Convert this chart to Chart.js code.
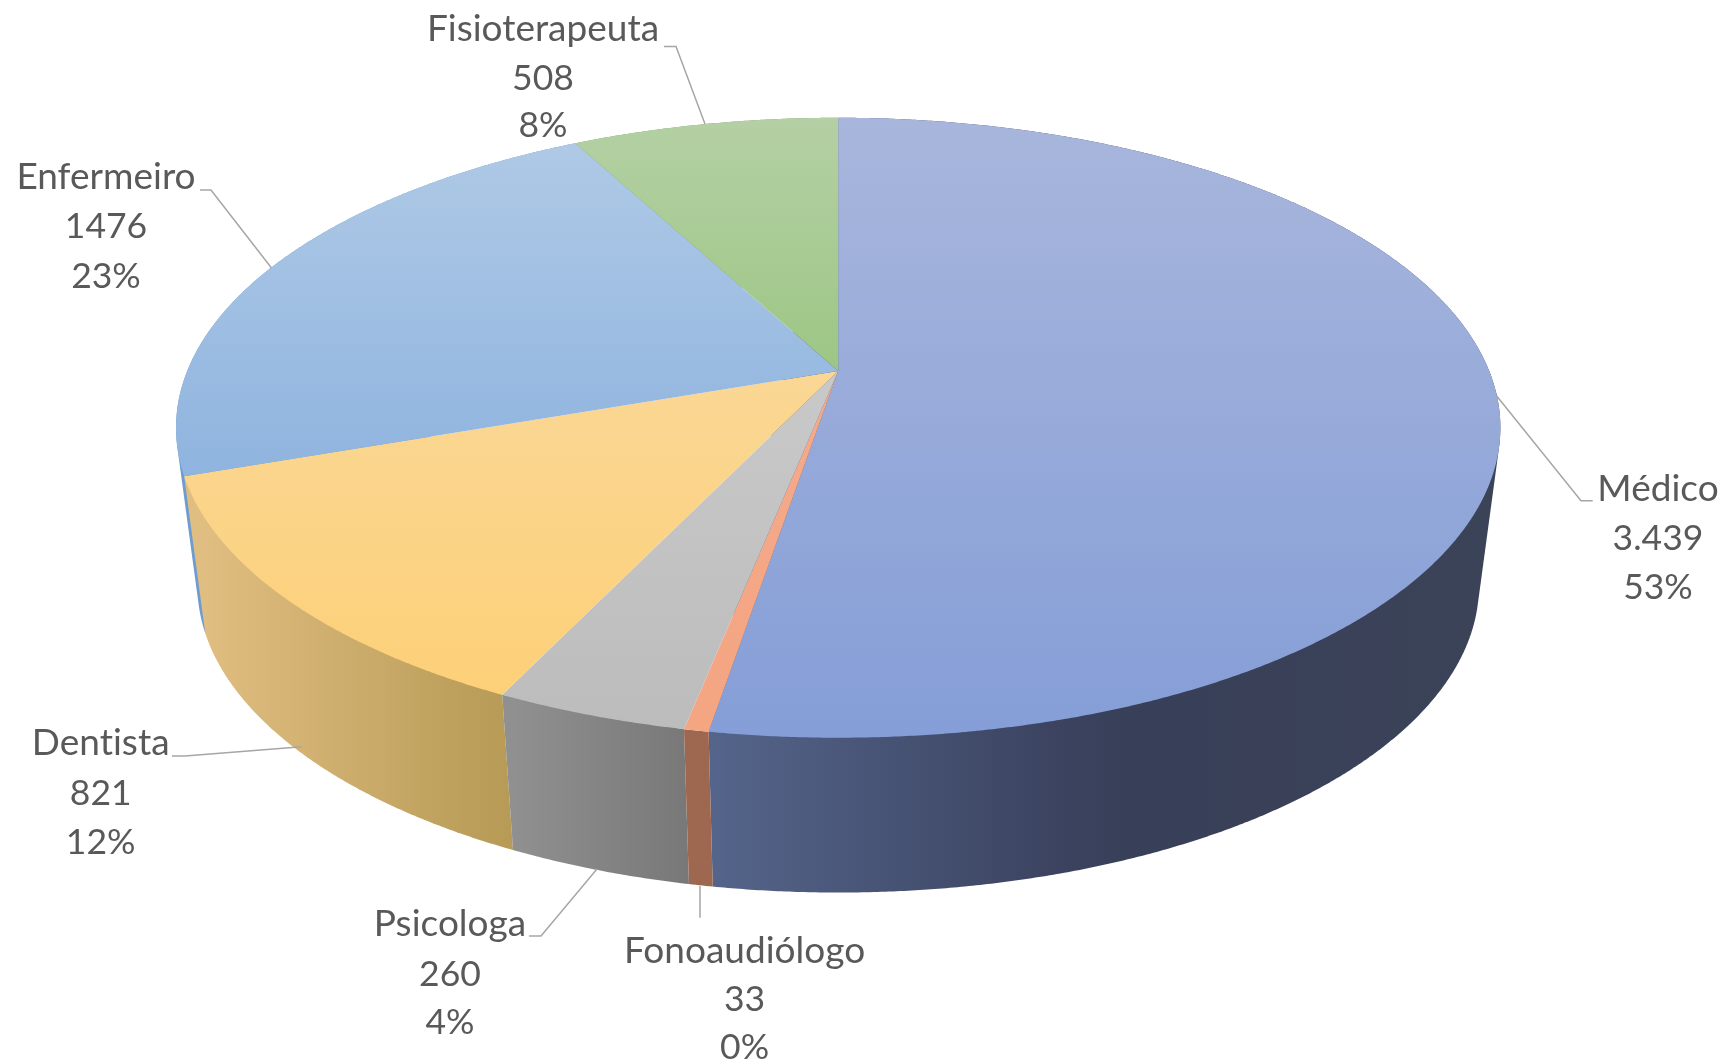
<!DOCTYPE html>
<html>
<head>
<meta charset="utf-8">
<style>html,body{margin:0;padding:0;background:#fff}canvas{display:block}</style>
<script src="https://cdn.jsdelivr.net/npm/chart.js@4/dist/chart.umd.min.js"></script>
</head>
<body>
<canvas id="c" width="1727" height="1064"></canvas>
<script>
const categories = ['Médico','Fonoaudiólogo','Psicologa','Dentista','Enfermeiro','Fisioterapeuta'];
const values = [3439,33,260,821,1476,508];
const valueLabels = ['3.439','33','260','821','1476','508'];
const percentLabels = ['53%','0%','4%','12%','23%','8%'];
const baseColors = ['#96a8d9','#f4a582','#c2c2c2','#fbd68c','#9dbce2','#a8cb94'];

// styles
const topGradients = [['#a8b6dc','#859ed7'],['#f5aa8a','#f4a582'],['#c9c9c9','#bcbcbc'],['#fad795','#fdd078'],['#afc9e6','#8fb4df'],['#b4d0a4','#9dc684']];
const wallGradients = [
  [[0,'#54648a'],[0.45,'#3b4360'],[0.55,'#383f58'],[1,'#3b4358']],
  [[0,'#9e6850'],[1,'#9e6850']],
  [[0,'#909090'],[1,'#787878']],
  [[0,'#e0bd80'],[1,'#b69a55']],
  [[0,'#6e9bd0'],[1,'#6e9bd0']],
  [[0,'#7d9c68'],[1,'#7d9c68']]
];
const wallOrder = [0,4,5,3,2,1];
const TOP = {x0:838.2, A:651, B:299.6, C:371, K:0.183};
const LOW = {x0:838.2, A:630, B:297, C:529, K:0.183};
const project = (p,a)=>{const u=Math.cos(a),v=-Math.sin(a),d=1+p.K*v;return [p.x0+p.A*u/d,p.C-p.B*v/d];};
const rim = (p,a0,a1)=>{const n=Math.max(2,Math.ceil(Math.abs(a1-a0)/0.005));const o=[];for(let i=0;i<=n;i++)o.push(project(p,a0+(a1-a0)*i/n));return o;};
const hull = pts=>{
  const s=pts.slice().sort((a,b)=>a[0]-b[0]||a[1]-b[1]);
  const cross=(o,a,b)=>(a[0]-o[0])*(b[1]-o[1])-(a[1]-o[1])*(b[0]-o[0]);
  const lo=[],up=[];
  s.forEach(q=>{while(lo.length>1&&cross(lo[lo.length-2],lo[lo.length-1],q)<=0)lo.pop();lo.push(q);});
  s.slice().reverse().forEach(q=>{while(up.length>1&&cross(up[up.length-2],up[up.length-1],q)<=0)up.pop();up.push(q);});
  return lo.slice(0,-1).concat(up.slice(0,-1));
};

const labelLayout = [
  {cx:1658, base:[500.7,550,598.5], line:[[1496.7,396],[1581,500.7],[1592.7,500.7]]},
  {cx:744.6, base:[962.7,1011,1058.5], line:[[700,886],[700,917.7]]},
  {cx:450, base:[936,986,1033.5], line:[[597,869],[541,936],[529,936]]},
  {cx:100.7, base:[755,805,854], line:[[301.7,746.7],[185,756],[172,756]]},
  {cx:106, base:[189,238,287.5], line:[[271.5,268],[211,190],[200,190]]},
  {cx:543, base:[40.7,89.8,137.3], line:[[705,124],[676,46.5],[664,46.5]]}
];

const pie3d = {
  id:'pie3d',
  beforeDatasetDraw(chart,args){
    const ctx=chart.ctx, arcs=chart.getDatasetMeta(args.index).data;
    ctx.save();
    wallOrder.forEach(i=>{
      const el=arcs[i];
      const t=rim(TOP,el.startAngle,el.endAngle), b=rim(LOW,el.startAngle,el.endAngle);
      const poly=hull(t.concat(b));
      const fr=b.filter(q=>q[1]>LOW.C);
      const src=fr.length?fr:b, xa=Math.min(...src.map(q=>q[0])), xb=Math.max(...src.map(q=>q[0]));
      const g=ctx.createLinearGradient(xa,0,Math.max(xb,xa+1),0);
      wallGradients[i].forEach(s=>g.addColorStop(s[0],s[1]));
      ctx.beginPath();poly.forEach((q,j)=>j?ctx.lineTo(q[0],q[1]):ctx.moveTo(q[0],q[1]));ctx.closePath();
      ctx.fillStyle=g;ctx.fill();
    });
    arcs.forEach((el,i)=>{
      const pts=rim(TOP,el.startAngle,el.endAngle), c=[TOP.x0,TOP.C];
      const ys=pts.map(q=>q[1]).concat(c[1]);
      const g=ctx.createLinearGradient(0,Math.min(...ys),0,Math.max(...ys));
      g.addColorStop(0,topGradients[i][0]);g.addColorStop(1,topGradients[i][1]);
      ctx.beginPath();ctx.moveTo(c[0],c[1]);pts.forEach(q=>ctx.lineTo(q[0],q[1]));ctx.closePath();
      ctx.fillStyle=g;ctx.fill();
    });
    ctx.restore();
    return false;
  },
  afterDatasetsDraw(chart){
    const ctx=chart.ctx;
    ctx.save();
    ctx.strokeStyle='#a6a6a6';ctx.lineWidth=1.5;
    labelLayout.forEach(l=>{ctx.beginPath();l.line.forEach((q,j)=>j?ctx.lineTo(q[0],q[1]):ctx.moveTo(q[0],q[1]));ctx.stroke();});
    ctx.fillStyle='#595959';ctx.textAlign='center';ctx.textBaseline='alphabetic';
    ctx.letterSpacing='0.01px';
    categories.forEach((name,i)=>{
      const l=labelLayout[i];
      ctx.font='37px Lato';ctx.fillText(name,l.cx,l.base[0]);
      ctx.font='35.5px Lato';
      ctx.fillText(valueLabels[i],l.cx,l.base[1]);
      ctx.fillText(percentLabels[i],l.cx,l.base[2]);
    });
    ctx.restore();
  }
};

new Chart(document.getElementById('c'),{
  type:'pie',
  data:{labels:categories,datasets:[{data:values,backgroundColor:baseColors,borderWidth:0}]},
  options:{
    responsive:false,animation:false,events:[],
    plugins:{legend:{display:false},tooltip:{enabled:false},title:{display:false}}
  },
  plugins:[pie3d]
});
</script>
</body>
</html>
